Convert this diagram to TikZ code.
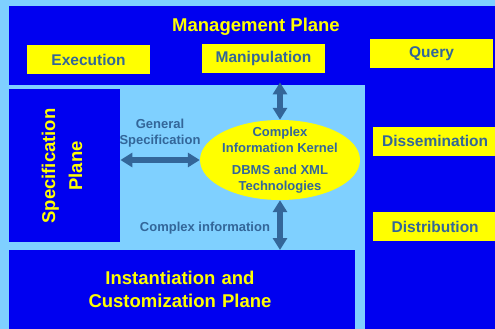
\documentclass[tikz,border=0pt]{standalone}
\usepackage{fontspec}
\setmainfont{Liberation Sans}
\usetikzlibrary{shapes.geometric,arrows.meta}
\definecolor{skyback}{HTML}{7FD0FF}
\definecolor{planeblue}{HTML}{0000F0}
\definecolor{boxyellow}{HTML}{FFFF00}
\definecolor{steel}{HTML}{336699}
\tikzset{
  plane/.style={fill=planeblue,draw=none,inner sep=0pt},
  title/.style={text=boxyellow,font=\bfseries\fontsize{18.5}{23}\selectfont,align=center},
  opbox/.style={fill=boxyellow,draw=none,text=steel,font=\bfseries\fontsize{15.5}{18}\selectfont,
    minimum height=29pt,inner sep=0pt},
  tag/.style={text=steel,font=\bfseries\fontsize{13}{16}\selectfont,align=center},
  fatarrow/.style={draw=steel,line width=5.5pt,{Triangle[width=14pt,length=12pt]}-{Triangle[width=14pt,length=12pt]}}
}
\begin{document}
\begin{tikzpicture}[x=1pt,y=-1pt]
    \fill[skyback] (0,0) rectangle (495,329);
    \useasboundingbox (0,0) rectangle (495,329);
    % planes
    \node[plane,anchor=north west,minimum width=486pt,minimum height=79pt] (mgmt) at (9,6) {};
    \node[plane,anchor=north west,minimum width=130pt,minimum height=323pt] (right) at (365,6) {};
    \node[plane,anchor=north west,minimum width=111pt,minimum height=153pt] (spec) at (9,89) {};
    \node[plane,anchor=north west,minimum width=346pt,minimum height=79pt] (inst) at (9,250) {};
    \node[title] (mgmttitle) at (256,27) {Management Plane};
    \node[title,rotate=90,font=\bfseries\fontsize{18.5}{27}\selectfont] (spectitle) at (62,166) {Specification\\Plane};
    \node[title,text width=300pt] (insttitle) at (180,289) {Instantiation and\\Customization Plane};
    % operations
    \node[opbox,minimum width=123pt] (exec) at (88.5,59.5) {Execution};
    \node[opbox,minimum width=123pt] (manip) at (263.5,58.5) {Manipulation};
    \node[opbox,minimum width=123pt] (query) at (431.5,53.5) {Query};
    \node[opbox,minimum width=124pt,anchor=west] (dissem) at (373,141) {Dissemination};
    \node[opbox,minimum width=124pt,anchor=west] (distr) at (373,226.5) {Distribution};
    % kernel
    \node[ellipse,fill=boxyellow,minimum width=160pt,minimum height=80pt,inner sep=0pt] (kernel) at (280,160) {};
    \node[tag] (kerneltext) at (kernel.center)
      {Complex\\Information Kernel\\[6pt]DBMS and XML\\Technologies};
    % arrows
    \draw[fatarrow] ([yshift=3pt]kernel.north |- mgmt.south) -- (kernel.north);
    \draw[fatarrow] (spec.east |- kernel.west) -- (kernel.west);
    \draw[fatarrow] (kernel.south) -- (kernel.south |- inst.north);
    \node[tag] (gentag) at (160,133) {General\\Specification};
    \node[tag] (cinfotag) at (205,228) {Complex information};
\end{tikzpicture}
\end{document}
